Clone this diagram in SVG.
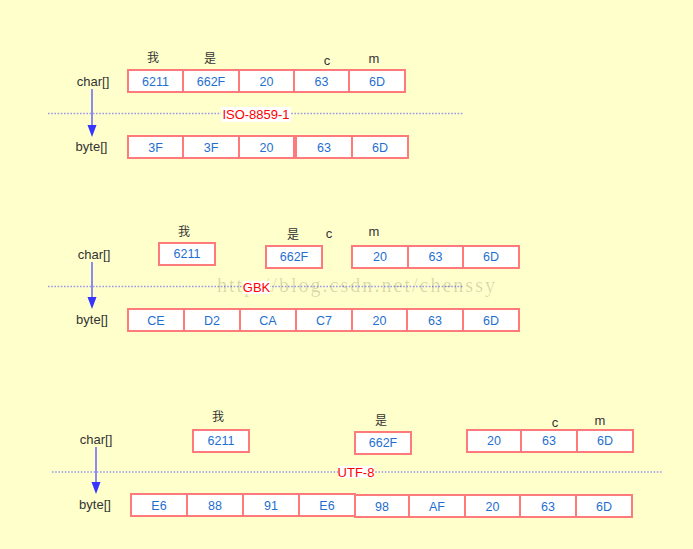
<svg xmlns="http://www.w3.org/2000/svg" width="693" height="549" viewBox="0 0 693 549">
<defs>
<style>
.bg{fill:#ffffcc}
.box{fill:#ffffff;stroke:#ff7b7b;stroke-width:2}
.v{font-family:"Liberation Sans",Arial,sans-serif;font-size:12.5px;fill:#1f6fd0;text-anchor:middle}
.lbl{font-family:"Liberation Sans",Arial,sans-serif;font-size:13px;fill:#333333;text-anchor:middle}
.cj{font-family:"Liberation Sans","Noto Sans CJK SC",sans-serif;font-size:12px;fill:#333333;text-anchor:middle}
.enc{font-family:"Liberation Sans",Arial,sans-serif;font-size:13px;fill:#ff0000;text-anchor:middle}
.encbg{fill:#ffffff}
.dots{stroke:#9a9ae8;stroke-width:1.6;stroke-dasharray:1.6 1.6;fill:none}
.shaft{stroke:#8c8cf0;stroke-width:2;fill:none}
.head{fill:#3535ff}
.wm{font-family:"Liberation Serif","DejaVu Serif",serif;font-size:20px;fill:#000000;fill-opacity:0.16}
</style>
</defs>
<rect class="bg" x="0" y="0" width="693" height="549"/>

<g id="connectors">
<line class="dots" x1="48" y1="113.5" x2="463" y2="113.5"/>
<line class="shaft" x1="92" y1="89" x2="92" y2="126"/>
<polygon class="head" points="87.5,125 96.5,125 92,137"/>
<line class="dots" x1="48" y1="286.5" x2="463" y2="286.5"/>
<line class="shaft" x1="92" y1="262" x2="92" y2="298"/>
<polygon class="head" points="87.5,297 96.5,297 92,309"/>
<line class="dots" x1="52" y1="472" x2="662" y2="472"/>
<line class="shaft" x1="96" y1="447" x2="96" y2="483"/>
<polygon class="head" points="91.5,482 100.5,482 96,494"/>
</g>

<text class="wm" x="217" y="292" textLength="278" lengthAdjust="spacing">http://blog.csdn.net/chenssy</text>

<g id="iso-section">
<g id="iso-labels">
<text class="lbl" x="93" y="86">char[]</text>
<text class="lbl" x="91.5" y="151">byte[]</text>
<text class="cj" x="153" y="62">我</text>
<text class="cj" x="210" y="63">是</text>
<text class="lbl" x="327" y="65">c</text>
<text class="lbl" x="374" y="63">m</text>
</g>
<g id="iso-char">
<rect class="box" x="128" y="70" width="55" height="22"/><text class="v" x="155.5" y="85.5">6211</text>
<rect class="box" x="183" y="70" width="56" height="22"/><text class="v" x="211" y="85.5">662F</text>
<rect class="box" x="239" y="70" width="55" height="22"/><text class="v" x="266.5" y="85.5">20</text>
<rect class="box" x="294" y="70" width="55" height="22"/><text class="v" x="321.5" y="85.5">63</text>
<rect class="box" x="349" y="70" width="56" height="22"/><text class="v" x="377" y="85.5">6D</text>
</g>
<g id="iso-enc">
<rect class="encbg" x="221" y="107" width="70" height="15"/>
<text class="enc" x="256" y="118.5">ISO-8859-1</text>
</g>
<g id="iso-byte">
<rect class="box" x="128" y="136" width="55" height="22"/><text class="v" x="155.5" y="151.5">3F</text>
<rect class="box" x="183" y="136" width="56" height="22"/><text class="v" x="211" y="151.5">3F</text>
<rect class="box" x="239" y="136" width="55" height="22"/><text class="v" x="266.5" y="151.5">20</text>
<rect class="box" x="296" y="136" width="56" height="22"/><text class="v" x="324" y="151.5">63</text>
<rect class="box" x="352" y="136" width="56" height="22"/><text class="v" x="380" y="151.5">6D</text>
</g>
</g>

<g id="gbk-section">
<g id="gbk-labels">
<text class="lbl" x="94" y="259">char[]</text>
<text class="lbl" x="92" y="324">byte[]</text>
<text class="cj" x="184" y="236">我</text>
<text class="cj" x="293" y="239">是</text>
<text class="lbl" x="329" y="238">c</text>
<text class="lbl" x="374" y="236">m</text>
</g>
<g id="gbk-char">
<rect class="box" x="159" y="243" width="56" height="22"/><text class="v" x="187" y="258">6211</text>
<rect class="box" x="266" y="246" width="56" height="22"/><text class="v" x="294" y="261">662F</text>
<rect class="box" x="352" y="246" width="56" height="22"/><text class="v" x="380" y="261">20</text>
<rect class="box" x="408" y="246" width="55" height="22"/><text class="v" x="435.5" y="261">63</text>
<rect class="box" x="463" y="246" width="56" height="22"/><text class="v" x="491" y="261">6D</text>
</g>
<g id="gbk-enc">
<rect class="encbg" x="243" y="281" width="27" height="13"/>
<text class="enc" x="256.5" y="292">GBK</text>
</g>
<g id="gbk-byte">
<rect class="box" x="128" y="309" width="56" height="22"/><text class="v" x="156" y="324.5">CE</text>
<rect class="box" x="184" y="309" width="56" height="22"/><text class="v" x="212" y="324.5">D2</text>
<rect class="box" x="240" y="309" width="56" height="22"/><text class="v" x="268" y="324.5">CA</text>
<rect class="box" x="296" y="309" width="56" height="22"/><text class="v" x="324" y="324.5">C7</text>
<rect class="box" x="352" y="309" width="55" height="22"/><text class="v" x="379.5" y="324.5">20</text>
<rect class="box" x="407" y="309" width="56" height="22"/><text class="v" x="435" y="324.5">63</text>
<rect class="box" x="463" y="309" width="56" height="22"/><text class="v" x="491" y="324.5">6D</text>
</g>
</g>

<g id="utf8-section">
<g id="utf8-labels">
<text class="lbl" x="96" y="444">char[]</text>
<text class="lbl" x="95" y="509">byte[]</text>
<text class="cj" x="218" y="421">我</text>
<text class="cj" x="381" y="425">是</text>
<text class="lbl" x="555" y="427">c</text>
<text class="lbl" x="600" y="425">m</text>
</g>
<g id="utf8-char">
<rect class="box" x="193" y="430" width="56" height="22"/><text class="v" x="221" y="445">6211</text>
<rect class="box" x="355" y="432" width="56" height="22"/><text class="v" x="383" y="447">662F</text>
<rect class="box" x="467" y="430" width="54" height="22"/><text class="v" x="494" y="445">20</text>
<rect class="box" x="521" y="430" width="56" height="22"/><text class="v" x="549" y="445">63</text>
<rect class="box" x="577" y="430" width="56" height="22"/><text class="v" x="605" y="445">6D</text>
</g>
<g id="utf8-enc">
<rect class="encbg" x="338" y="466" width="36" height="12"/>
<text class="enc" x="356" y="476.5">UTF-8</text>
</g>
<g id="utf8-byte">
<rect class="box" x="131" y="494" width="56" height="22"/><text class="v" x="159" y="509.5">E6</text>
<rect class="box" x="187" y="494" width="56" height="22"/><text class="v" x="215" y="509.5">88</text>
<rect class="box" x="243" y="494" width="56" height="22"/><text class="v" x="271" y="509.5">91</text>
<rect class="box" x="299" y="494" width="56" height="22"/><text class="v" x="327" y="509.5">E6</text>
<rect class="box" x="355" y="495" width="54" height="22"/><text class="v" x="382" y="510.5">98</text>
<rect class="box" x="409" y="495" width="56" height="22"/><text class="v" x="437" y="510.5">AF</text>
<rect class="box" x="465" y="495" width="55" height="22"/><text class="v" x="492.5" y="510.5">20</text>
<rect class="box" x="520" y="495" width="56" height="22"/><text class="v" x="548" y="510.5">63</text>
<rect class="box" x="576" y="495" width="56" height="22"/><text class="v" x="604" y="510.5">6D</text>
</g>
</g>
</svg>
